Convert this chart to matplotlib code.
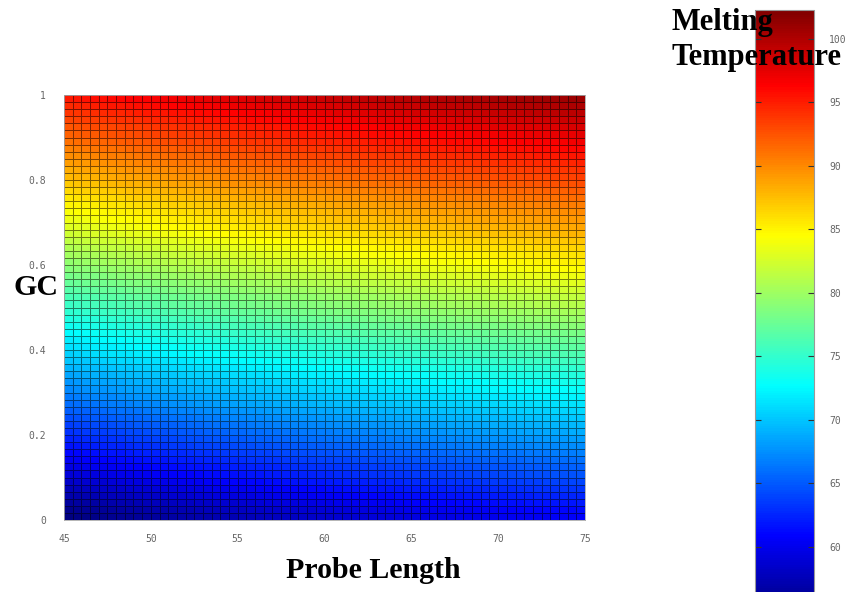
import numpy as np
import matplotlib
matplotlib.use("Agg")
import matplotlib.pyplot as plt
from matplotlib.colors import Normalize, LinearSegmentedColormap

# Probe lengths (cell edges, step 0.5) and GC fractions (cell edges, step 1/60)
length_edges = [45 + 0.5 * k for k in range(61)]
gc_edges = [k / 60 for k in range(61)]

# Melting temperature of each GC row for the shortest probe length (45)
tm_by_gc_row = [
    54.9, 55.5, 56.2, 56.9, 57.6, 58.3, 59.0, 59.6, 60.3, 61.0,
    61.7, 62.4, 63.1, 63.7, 64.4, 65.1, 65.8, 66.5, 67.2, 67.8,
    68.5, 69.2, 69.9, 70.6, 71.3, 71.9, 72.6, 73.3, 74.0, 74.7,
    75.4, 76.0, 76.7, 77.4, 78.1, 78.8, 79.5, 80.1, 80.8, 81.5,
    82.2, 82.9, 83.6, 84.2, 84.9, 85.6, 86.3, 87.0, 87.7, 88.3,
    89.0, 89.7, 90.4, 91.1, 91.8, 92.4, 93.1, 93.8, 94.5, 95.2,
]

# Rise in melting temperature of each probe-length column relative to length 45
tm_rise_by_length = [
    0.00, 0.16, 0.31, 0.47, 0.61, 0.76, 0.90, 1.04, 1.18, 1.31,
    1.44, 1.57, 1.70, 1.82, 1.94, 2.06, 2.18, 2.29, 2.41, 2.52,
    2.63, 2.73, 2.84, 2.94, 3.04, 3.14, 3.24, 3.33, 3.43, 3.52,
    3.61, 3.70, 3.79, 3.88, 3.96, 4.04, 4.13, 4.21, 4.29, 4.37,
    4.44, 4.52, 4.60, 4.67, 4.74, 4.81, 4.89, 4.96, 5.02, 5.09,
    5.16, 5.22, 5.29, 5.35, 5.42, 5.48, 5.54, 5.60, 5.66, 5.72,
]

x_ticks = [45, 50, 55, 60, 65, 70, 75]
y_ticks = [0, 0.2, 0.4, 0.6, 0.8, 1]
y_tick_labels = ["0", "0.2", "0.4", "0.6", "0.8", "1"]
cbar_ticks = [60, 65, 70, 75, 80, 85, 90, 95, 100]
tm_min, tm_max = 54.86, 102.3

tm_grid = np.array(tm_by_gc_row)[:, None] + np.array(tm_rise_by_length)[None, :]

# Classic piecewise-linear jet (dark blue -> blue -> cyan -> yellow -> red -> dark red)
jet_classic = LinearSegmentedColormap("jet_classic", {
    "red":   [(0, 0, 0), (3 / 8, 0, 0), (5 / 8, 1, 1), (7 / 8, 1, 1), (1, 0.5, 0.5)],
    "green": [(0, 0, 0), (1 / 8, 0, 0), (3 / 8, 1, 1), (5 / 8, 1, 1), (7 / 8, 0, 0), (1, 0, 0)],
    "blue":  [(0, 0.5, 0.5), (1 / 8, 1, 1), (3 / 8, 1, 1), (5 / 8, 0, 0), (1, 0, 0)],
}, N=256)

W, H = 853, 592
fig = plt.figure(figsize=(W / 100, H / 100), dpi=100)
fig.patch.set_facecolor("white")

norm = Normalize(vmin=tm_min, vmax=tm_max)

# Main heat map
ax = fig.add_axes([64 / W, 1 - 520 / H, (585 - 64) / W, (520 - 95) / H])
mesh = ax.pcolormesh(length_edges, gc_edges, tm_grid, cmap=jet_classic, norm=norm,
                     edgecolors=(0, 0, 0, 0.5), linewidth=0.6, shading="flat")
ax.set_xlim(45, 75)
ax.set_ylim(0, 1)
ax.set_xticks(x_ticks)
ax.set_xticklabels([str(v) for v in x_ticks])
ax.set_yticks(y_ticks)
ax.set_yticklabels(y_tick_labels)
ax.tick_params(length=0, labelsize=7, labelcolor="#666666")
ax.tick_params(axis="y", pad=13)
ax.tick_params(axis="x", pad=10)
for lab in ax.get_xticklabels() + ax.get_yticklabels():
    lab.set_family("DejaVu Sans Mono")
for sp in ax.spines.values():
    sp.set_color("#aaaaaa")
    sp.set_linewidth(0.6)

# Colour bar, running past the bottom of the figure
top_px, bot_px = 9.8, 611.8
cax = fig.add_axes([755 / W, 1 - bot_px / H, (814 - 755) / W, (bot_px - top_px) / H])
cb = fig.colorbar(mesh, cax=cax, ticks=cbar_ticks)
cb.outline.set_edgecolor("#999999")
cb.outline.set_linewidth(0.8)
cax.yaxis.set_ticks_position("both")
cax.tick_params(direction="in", length=4, width=0.8, color="#333333",
                labelsize=7, labelcolor="#666666", pad=11)
cax.yaxis.set_tick_params(labelleft=False, labelright=True)
for lab in cax.get_yticklabels():
    lab.set_family("DejaVu Sans Mono")

serif = ["Liberation Serif", "DejaVu Serif"]
fig.text(373 / W, 1 - 570 / H, "Probe Length", ha="center", va="center",
         fontsize=21.5, fontweight="bold", family=serif)
fig.text(36 / W, 1 - 287 / H, "GC", ha="center", va="center",
         fontsize=21.5, fontweight="bold", family=serif)
fig.text(672 / W, 1 - 30 / H, "Melting", ha="left", va="baseline",
         fontsize=22, fontweight="bold", family=serif, zorder=10)
fig.text(672 / W, 1 - 65 / H, "Temperature", ha="left", va="baseline",
         fontsize=22, fontweight="bold", family=serif, zorder=10)

fig.savefig("out.png", dpi=100)
